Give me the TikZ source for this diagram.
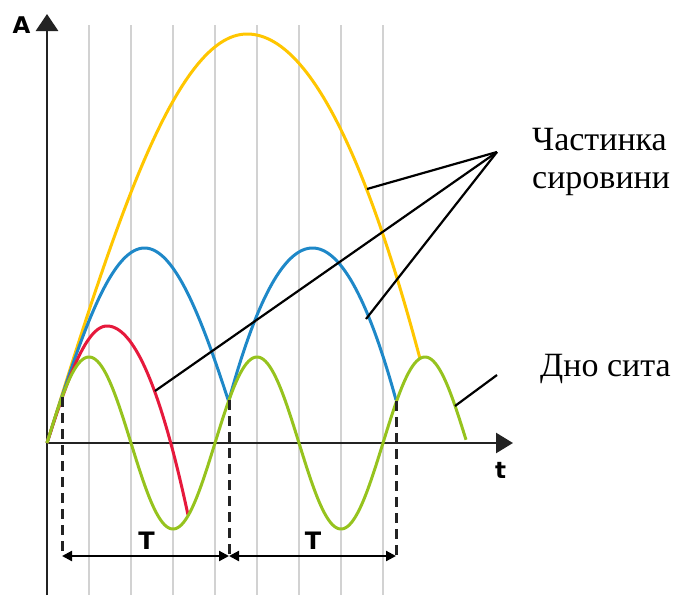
\documentclass[tikz,border=0pt]{standalone}
\usepackage{fontspec}
\setmainfont{Liberation Serif}
\newfontfamily\dvsans{DejaVu Sans}
\usetikzlibrary{arrows.meta}
\definecolor{ycol}{RGB}{255,198,0}
\definecolor{bcol}{RGB}{30,136,200}
\definecolor{rcol}{RGB}{230,25,60}
\definecolor{gcol}{RGB}{150,195,30}
\definecolor{gridcol}{RGB}{210,210,210}
\definecolor{axcol}{RGB}{35,35,35}
\begin{document}
\begin{tikzpicture}[x=1pt,y=-1pt,
  gridline/.style={draw=gridcol, line width=2.4pt},
  axis/.style={draw=axcol, line width=2.8pt, -{Triangle[length=17pt,width=22pt]}},
  curve/.style={line width=3pt, line join=round},
  dashline/.style={draw=axcol, line width=3pt, dash pattern=on 10pt off 6pt},
  dim/.style={draw=black, line width=2.2pt, {Triangle[length=10pt,width=10pt]}-{Triangle[length=10pt,width=10pt]}},
  conn/.style={draw=black, line width=2.2pt},
  lbl/.style={font=\fontsize{34}{38}\selectfont, inner sep=0pt},
  axlbl/.style={font=\dvsans\bfseries\fontsize{23}{23}\selectfont, inner sep=0pt},
  tlbl/.style={font=\dvsans\bfseries\fontsize{24}{24}\selectfont, inner sep=0pt}]
\useasboundingbox (0,0) rectangle (675,595);

% grid
\foreach \gx in {89,131,173,215,257,299,341,383}
  \draw[gridline] (\gx,25) -- (\gx,595);

% axes
\coordinate (O) at (47,443);
\coordinate (ybot) at (47,595);
\coordinate (ytop) at (47,14);
\coordinate (xend) at (513,443);
\draw[axis] (ybot) -- (ytop);
\draw[axis, line width=2.6pt, -{Triangle[length=17pt,width=20pt]}] (O) -- (xend);

% yellow
\draw[curve, draw=ycol]
  plot[domain=47:247, samples=120] (\x, {443-409*sin(0.45*(\x-47))})
  -- plot[domain=247:420, samples=100] (\x, {34+(0.10416*(\x-247))^2});

% blue
\draw[curve, draw=bcol]
  plot[domain=47:229, samples=120] (\x, {443-195*sin(0.923077*(\x-47))})
  -- (229,400)
  -- plot[domain=229:396, samples=120] (\x, {248+152*((\x-312.5)/83.5)^2});

% red
\draw[curve, draw=rcol]
  plot[domain=47:107, samples=60] (\x, {443-117*sin(1.5*(\x-47))})
  -- plot[domain=107:188, samples=80] (\x, {326+(0.1697*(\x-107))^2});

% green
\draw[curve, draw=gcol]
  plot[domain=47:466, samples=300] (\x, {443-86*sin(2.142857*(\x-47))});

% dashed
\coordinate (d1) at (62,397);
\coordinate (d2) at (229,400);
\coordinate (d3) at (396,401);
\coordinate (b1) at (62,556);
\coordinate (b2) at (229,556);
\coordinate (b3) at (396,556);
\draw[dashline] (d1) -- (b1);
\draw[dashline] (d2) -- (b2);
\draw[dashline] (d3) -- (b3);
\draw[dim] (b1) -- (b2);
\draw[dim] (b2) -- (b3);

% labels
\node[axlbl, anchor=base] (alab) at (21.5,33) {A};
\node[axlbl, anchor=base] (tlab) at (500.5,478) {t};
\node[tlbl, anchor=base] (T1) at (146.5,549) {T};
\node[tlbl, anchor=base] (T2) at (313,549) {T};
\node[lbl, anchor=north west, align=left] (particle) at (532,128) {Частинка\\сировини};
\node[lbl, anchor=base west] (bottom) at (540,376) {Дно сита};

% connectors
\coordinate (hub) at (497,152);
\coordinate (py) at (367,189);
\coordinate (pr) at (155,391);
\coordinate (pb) at (366,319);
\draw[conn] (hub) -- (py);
\draw[conn] (hub) -- (pr);
\draw[conn] (hub) -- (pb);
\coordinate (bend) at (497,375);
\coordinate (pg) at (455,406);
\draw[conn] (bend) -- (pg);
\end{tikzpicture}
\end{document}
